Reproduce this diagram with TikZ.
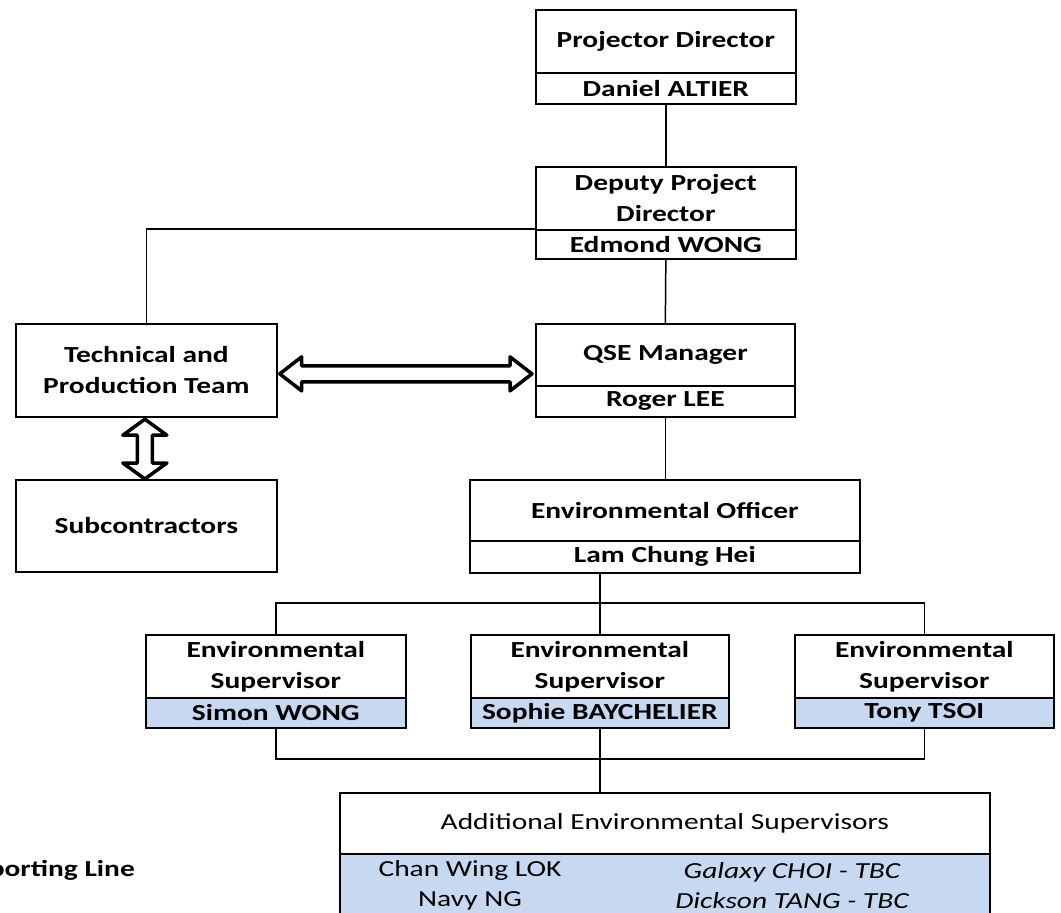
\documentclass[tikz,border=0pt]{standalone}
\usepackage{fontspec}
\setmainfont[FakeStretch=1.28]{Carlito}
\usetikzlibrary{calc}
\definecolor{nameblue}{RGB}{198,217,241}
\tikzset{
  box/.style={draw, line width=1.7pt, inner sep=0pt, anchor=north west, align=center,
    font=\fontsize{23}{31}\selectfont\bfseries},
  namebox/.style={box, fill=nameblue},
  plainbox/.style={box, font=\fontsize{23}{30}\selectfont},
  link/.style={line width=1.5pt},
  hollow/.style={draw, fill=white, line width=3.5pt, line join=round},
  txt/.style={inner sep=0pt, align=center, font=\fontsize{23}{30}\selectfont}
}
\begin{document}
\begin{tikzpicture}[x=1pt,y=-1pt]
\useasboundingbox (0,0) rectangle (1061,913);
\clip (0,0) rectangle (1061,913);
% top chain
\node[box, minimum width=260pt, minimum height=63pt] (pdt) at (535,9) {Projector Director};
\node[box, minimum width=260pt, minimum height=31pt] (pdn) at (535,72) {Daniel ALTIER};
\node[box, minimum width=260pt, minimum height=63pt] (dpt) at (535,166) {Deputy Project\\Director};
\node[box, minimum width=260pt, minimum height=29pt] (dpn) at (535,229) {Edmond WONG};
\node[box, minimum width=259pt, minimum height=62pt] (qset) at (535,323) {QSE Manager};
\node[box, minimum width=259pt, minimum height=31pt] (qsen) at (535,385) {Roger LEE};
\node[box, minimum width=261pt, minimum height=93pt] (tech) at (15,323) {Technical and\\Production Team};
\node[box, minimum width=261pt, minimum height=92pt] (sub) at (15,479) {Subcontractors};
\node[box, minimum width=390pt, minimum height=61pt] (eot) at (469,479) {Environmental Officer};
\node[box, minimum width=390pt, minimum height=32pt] (eon) at (469,540) {Lam Chung Hei};
% supervisors
\node[box, minimum width=260pt, minimum height=63pt] (s1t) at (145,634) {Environmental\\Supervisor};
\node[namebox, minimum width=260pt, minimum height=30pt] (s1n) at (145,697) {Simon WONG};
\node[box, minimum width=258pt, minimum height=63pt] (s2t) at (470,634) {Environmental\\Supervisor};
\node[namebox, minimum width=258pt, minimum height=30pt] (s2n) at (470,697) {Sophie BAYCHELIER};
\node[box, minimum width=259pt, minimum height=63pt] (s3t) at (794,634) {Environmental\\Supervisor};
\node[namebox, minimum width=259pt, minimum height=30pt] (s3n) at (794,697) {Tony TSOI};
% additional
\node[plainbox, minimum width=650pt, minimum height=61pt] (addt) at (339,792) {Additional Environmental Supervisors};
\node[namebox, minimum width=650pt, minimum height=90pt] (addn) at (339,853) {};
\node[txt] (adda) at (470,885.5) {Chan Wing LOK\\Navy NG};
\node[txt, font=\fontsize{23}{30}\selectfont\itshape] (addb) at (792,885.5) {Galaxy CHOI - TBC\\Dickson TANG - TBC};
% legend (cut)
\node[inner sep=0pt, anchor=east, font=\fontsize{23}{30}\selectfont\bfseries] (legend) at (135,870) {porting Line};
% connectors
\draw[link] (pdn.south) -- (dpt.north);
\draw[link] (dpn.south) -- (qset.north);
\draw[link] (dpn.north west) -| (tech.north);
\draw[link] (qsen.south) -- (qsen.south |- eot.north);
\coordinate (bus1) at (s2t.north |- 0,603);
\coordinate (bus2) at (s2n.south |- 0,759);
\draw[link] (eon.south -| s2t.north) -- (s2t.north);
\draw[link] (s1t.north) |- (bus1) -| (s3t.north);
\draw[link] (s1n.south) |- (bus2) -| (s3n.south);
\draw[link] (s2n.south) -- (bus2) -- (addt.north -| bus2);
% horizontal double arrow
\coordinate (hL) at ($(tech.east)+(2,3.5)$);
\coordinate (hR) at ($(tech.east -| qset.west)+(-3,3.5)$);
\draw[hollow] (hL) -- ($(hL)+(22,-17)$) -- ($(hL)+(22,-8)$) -- ($(hR)+(-22,-8)$) -- ($(hR)+(-22,-17)$)
  -- (hR) -- ($(hR)+(-22,17)$) -- ($(hR)+(-22,8)$) -- ($(hL)+(22,8)$) -- ($(hL)+(22,17)$) -- cycle;
% vertical double arrow
\coordinate (vT) at ($(tech.south)+(-1.5,1.5)$);
\coordinate (vB) at ($(sub.north)+(-1.5,0)$);
\draw[hollow] (vT) -- ($(vT)+(22,16)$) -- ($(vT)+(7.5,16)$) -- ($(vB)+(7.5,-16)$) -- ($(vB)+(22,-16)$)
  -- (vB) -- ($(vB)+(-22,-16)$) -- ($(vB)+(-7.5,-16)$) -- ($(vT)+(-7.5,16)$) -- ($(vT)+(-22,16)$) -- cycle;
\end{tikzpicture}
\end{document}
